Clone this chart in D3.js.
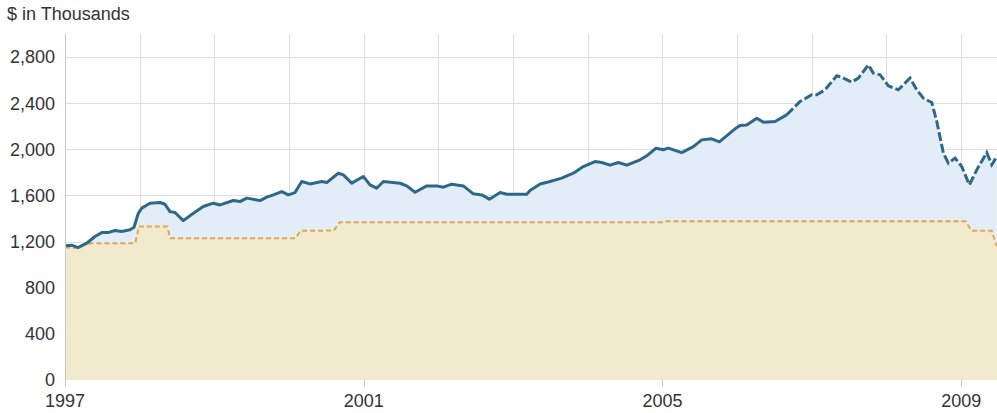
<!DOCTYPE html>
<html>
<head>
<meta charset="utf-8">
<script src="https://cdn.jsdelivr.net/npm/d3@7/dist/d3.min.js"></script>
<style>
  html, body { margin: 0; padding: 0; background: #ffffff; }
  svg { display: block; }
  text { font-family: "Liberation Sans", Arial, sans-serif; fill: #333; }
</style>
</head>
<body>
<svg id="chart" width="997" height="413"></svg>
<script>
// ---- Data (fractional years, $ thousands) ----
const blueDates = [1997.000,1997.090,1997.174,1997.291,1997.401,1997.492,1997.576,1997.669,1997.760,1997.870,
  1997.924,1997.982,1998.028,1998.138,1998.273,1998.339,1998.406,1998.473,1998.584,1998.719,
  1998.852,1998.986,1999.076,1999.254,1999.344,1999.434,1999.612,1999.701,1999.790,1999.902,
  1999.990,2000.080,2000.170,2000.281,2000.438,2000.504,2000.660,2000.727,2000.839,2000.995,
  2001.084,2001.174,2001.263,2001.487,2001.576,2001.687,2001.844,2001.978,2002.066,2002.179,
  2002.334,2002.468,2002.581,2002.683,2002.826,2002.916,2003.183,2003.227,2003.362,2003.495,
  2003.651,2003.807,2003.941,2004.097,2004.188,2004.299,2004.410,2004.523,2004.701,2004.790,
  2004.915,2005.012,2005.079,2005.258,2005.414,2005.526,2005.661,2005.762,2005.972,2006.039,
  2006.129,2006.263,2006.352,2006.508,2006.664,2006.843,2006.999,2007.066,2007.177,2007.334,
  2007.423,2007.536,2007.624,2007.758,2007.824,2007.914,2008.025,2008.159,2008.226,2008.316,
  2008.406,2008.494,2008.607,2008.674,2008.762,2008.829,2008.919,2009.008,2009.110,2009.209,
  2009.343,2009.410,2009.477];
const blueValues = [1163,1169,1148,1186,1244,1278,1278,1296,1287,1302,
  1325,1446,1490,1533,1539,1524,1460,1452,1382,1446,
  1504,1533,1518,1556,1547,1577,1556,1585,1605,1634,
  1605,1625,1721,1700,1721,1712,1793,1779,1707,1764,
  1692,1663,1721,1706,1683,1628,1683,1683,1672,1698,
  1683,1614,1605,1568,1625,1611,1611,1643,1700,1721,
  1750,1793,1851,1894,1886,1863,1886,1863,1909,1944,
  2010,1996,2010,1972,2024,2082,2091,2065,2178,2207,
  2212,2270,2235,2241,2299,2415,2473,2473,2516,2638,
  2618,2583,2618,2733,2661,2647,2551,2516,2560,2618,
  2516,2444,2406,2241,1967,1880,1924,1851,1692,1822,
  1972,1866,1938];
const dashFrom = 2006.664;   // blue line drawn dashed from this date on

const yellowDates = [1997.000,1997.120,1997.250,1997.350,1997.940,1997.990,1998.370,1998.410,2000.090,2000.150,
  2000.600,2000.680,2004.990,2005.010,2009.060,2009.140,2009.410,2009.470,2009.480];
const yellowValues = [1150,1145,1170,1185,1185,1330,1330,1230,1230,1293,
  1296,1368,1368,1376,1376,1293,1293,1170,1165];

const yTicks = [0,400,800,1200,1600,2000,2400,2800];
const xTickYears = [1997,2001,2005,2009];
const gridYears = [1998,1999,2000,2001,2002,2003,2004,2005,2006,2007,2008,2009];
const yUnitLabel = "$ in Thousands";

// ---- Layout ----
const svg = d3.select("#chart");
const mLeft = 65, mRight = 997, mTop = 34, mBottom = 380;
const x = d3.scaleLinear().domain([1997, 2009.48]).range([mLeft, mRight]);
const y = d3.scaleLinear().domain([0, 3000]).range([mBottom, mTop]);

const blue = blueDates.map((d,i)=>({d, v: blueValues[i]}));
const yellow = yellowDates.map((d,i)=>({d, v: yellowValues[i]}));

// gridlines
svg.append("g").selectAll("line").data(yTicks.filter(t=>t>0)).join("line")
  .attr("x1", mLeft).attr("x2", mRight)
  .attr("y1", d=>Math.round(y(d))+0.5).attr("y2", d=>Math.round(y(d))+0.5)
  .attr("stroke", "#dedede").attr("stroke-width", 1);
svg.append("g").selectAll("line").data(gridYears).join("line")
  .attr("x1", d=>Math.round(x(d))+0.5).attr("x2", d=>Math.round(x(d))+0.5)
  .attr("y1", mTop).attr("y2", mBottom)
  .attr("stroke", "#dedede").attr("stroke-width", 1);

// areas
const area = d3.area().x(p=>x(p.d)).y0(y(0)).y1(p=>y(p.v));
svg.append("path").datum(blue).attr("d", area).attr("fill", "#e3edf8");
svg.append("path").datum(yellow).attr("d", area).attr("fill", "#f1eacd");

// lines
const line = d3.line().x(p=>x(p.d)).y(p=>y(p.v));
svg.append("path").datum(yellow).attr("d", line)
  .attr("fill", "none").attr("stroke", "#e3a84a").attr("stroke-width", 2)
  .attr("stroke-dasharray", "5,3");
svg.append("path").datum(blue.filter(p=>p.d<=dashFrom)).attr("d", line)
  .attr("fill", "none").attr("stroke", "#2d6889").attr("stroke-width", 3)
  .attr("stroke-linejoin", "round");
svg.append("path").datum(blue.filter(p=>p.d>=dashFrom)).attr("d", line)
  .attr("fill", "none").attr("stroke", "#2d6889").attr("stroke-width", 3)
  .attr("stroke-dasharray", "9,3");

// left axis line
svg.append("line").attr("x1", mLeft+0.5).attr("x2", mLeft+0.5).attr("y1", mTop).attr("y2", mBottom)
  .attr("stroke", "#c8c8c8");

// y tick labels
svg.append("g").selectAll("text").data(yTicks).join("text")
  .attr("x", 55).attr("y", d=>y(d)).attr("dy", "0.35em")
  .attr("text-anchor", "end").attr("font-size", 18)
  .text(d=>d3.format(",")(d));

// x ticks
svg.append("g").selectAll("line").data(xTickYears).join("line")
  .attr("x1", d=>Math.round(x(d))+0.5).attr("x2", d=>Math.round(x(d))+0.5)
  .attr("y1", mBottom).attr("y2", mBottom+7).attr("stroke", "#c8c8c8");
svg.append("g").selectAll("text").data(xTickYears).join("text")
  .attr("x", d=>x(d)).attr("y", 407)
  .attr("text-anchor", "middle").attr("font-size", 18)
  .text(d=>d);

svg.append("text").attr("x", 7).attr("y", 20).attr("font-size", 18).text(yUnitLabel);
</script>
</body>
</html>
